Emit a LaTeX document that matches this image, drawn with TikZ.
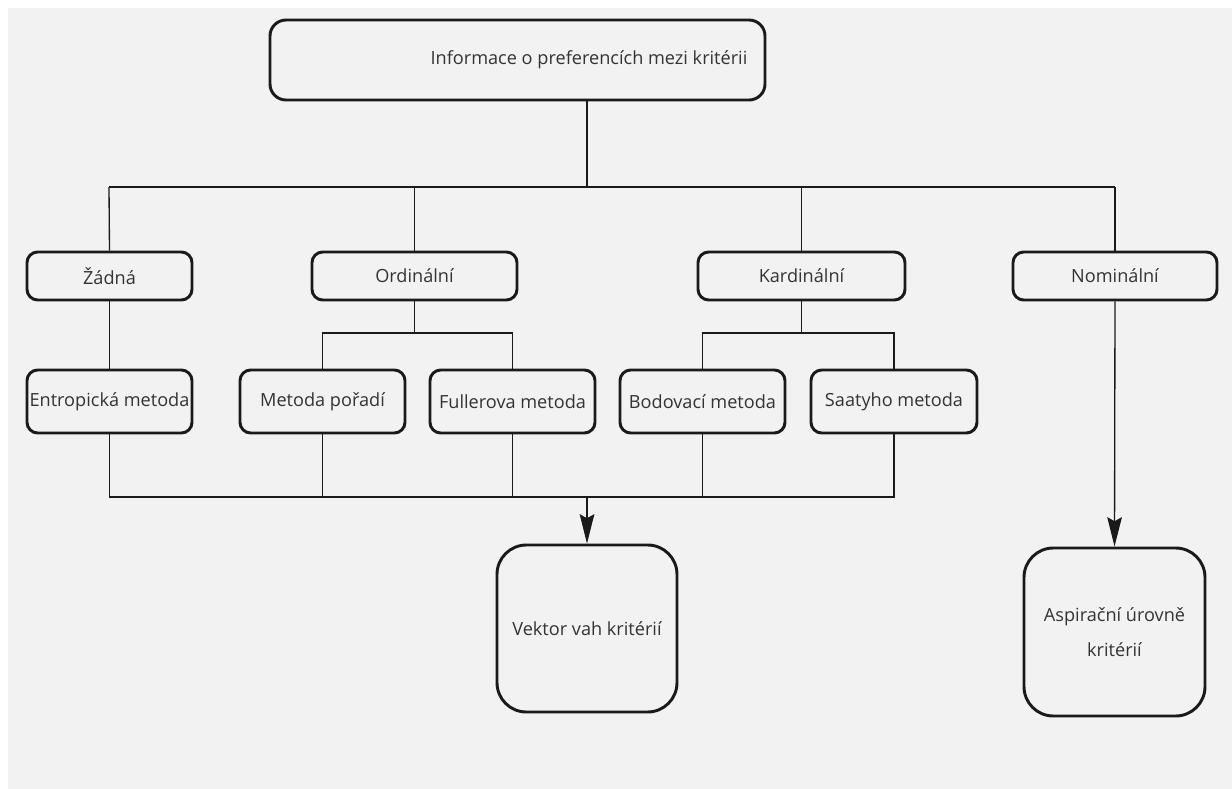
\documentclass[tikz,border=0pt]{standalone}
\usepackage{fontspec}
\setmainfont{Open Sans}
\usetikzlibrary{arrows.meta}
\definecolor{bg}{HTML}{F2F2F2}
\definecolor{txt}{HTML}{333333}
\definecolor{ln}{HTML}{1A1A1A}
\begin{document}
\begin{tikzpicture}[x=0.75pt,y=-0.75pt,
  lbl/.style={text=txt, font=\fontsize{13.6}{17}\selectfont, inner sep=0pt, align=center},
  box/.style={lbl, draw=ln, line width=2.2pt, rounded corners=8pt, fill=bg},
  bigbox/.style={box, rounded corners=22pt},
  conn/.style={draw=ln, line width=1pt},
  arr/.style={conn, -{Stealth[length=22pt,width=11pt,inset=3pt]}}]
\useasboundingbox (0,0) rectangle (1232,789);
\fill[bg] (8,8) rectangle (1232,789);

\node[box, minimum width=371.25pt, minimum height=60pt, rounded corners=12pt] (top) at (517.5,60) {};
\node[lbl] (toptext) at (589,60) {Informace o preferencích mezi kritérii};

\node[box, minimum width=123.75pt, minimum height=36pt] (zadna) at (109.5,276) {Žádná};
\node[box, minimum width=153.75pt, minimum height=36pt] (ord) at (414.5,276) {Ordinální};
\node[box, minimum width=155.25pt, minimum height=36pt] (kard) at (801.5,276) {Kardinální};
\node[box, minimum width=153pt, minimum height=36pt] (nom) at (1115,276) {Nominální};

\node[box, minimum width=123.75pt, minimum height=47.25pt] (entr) at (109.5,401.5) {Entropická metoda};
\node[box, minimum width=123.75pt, minimum height=47.25pt] (por) at (322.5,401.5) {Metoda pořadí};
\node[box, minimum width=123.75pt, minimum height=47.25pt] (full) at (512.5,401.5) {Fullerova metoda};
\node[box, minimum width=123.75pt, minimum height=47.25pt] (bod) at (702.5,401.5) {Bodovací metoda};
\node[box, minimum width=124.5pt, minimum height=47.25pt] (saat) at (894,401.5) {Saatyho metoda};

\node[bigbox, minimum width=135pt, minimum height=125.25pt] (vek) at (587,628.5) {Vektor vah kritérií};
\node[bigbox, minimum width=135.75pt, minimum height=126pt, font=\fontsize{13.6}{26}\selectfont] (asp) at (1114.5,632) {Aspirační úrovně\\kritérií};

% top tree
\coordinate (h0) at (587,187);
\coordinate (hL) at (109,187);
\coordinate (hR) at (1115,187);
\draw[conn] (top.south -| h0) -- (h0);
\draw[conn] (hL) -- (hR);
\draw[conn] (hL) -- (zadna.north);
\draw[conn] (ord.north |- h0) -- (ord.north);
\draw[conn] (kard.north |- h0) -- (kard.north);
\draw[conn] (hR) -- (nom.north);

% second level
\draw[conn] (zadna.south) -- (entr.north);
\coordinate (o1) at (414.5,333);
\draw[conn] (ord.south) -- (o1);
\draw[conn] (por.north) -- (por.north |- o1) -- (full.north |- o1) -- (full.north);
\coordinate (k1) at (801.5,333);
\draw[conn] (kard.south) -- (k1);
\draw[conn] (bod.north) -- (bod.north |- k1) -- (saat.north |- k1) -- (saat.north);

% bottom collector
\coordinate (b0) at (587,497);
\draw[conn] (entr.south) -- (entr.south |- b0) -- (saat.south |- b0) -- (saat.south);
\draw[conn] (por.south) -- (por.south |- b0);
\draw[conn] (full.south) -- (full.south |- b0);
\draw[conn] (bod.south) -- (bod.south |- b0);
\draw[arr] (b0) -- (vek.north);
\draw[arr] (nom.south) -- (asp.north);
\end{tikzpicture}
\end{document}
